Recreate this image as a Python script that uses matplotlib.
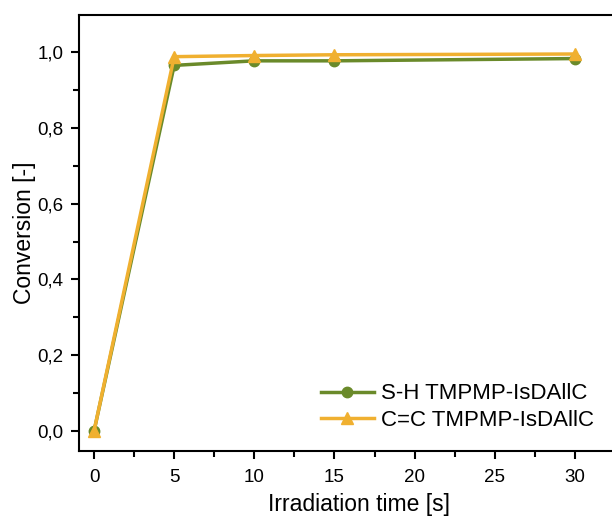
import matplotlib.pyplot as plt
from matplotlib.ticker import MultipleLocator, FuncFormatter

plt.rcParams['font.family'] = ['Liberation Sans', 'DejaVu Sans']

time_s = [0, 5, 10, 15, 30]
conv_sh = [0.0, 0.965, 0.977, 0.977, 0.983]
conv_cc = [0.0, 0.988, 0.991, 0.993, 0.995]

green = '#6a8a2a'
orange = '#f0b030'

fig = plt.figure(figsize=(6.12, 5.19), dpi=100)
ax = fig.add_axes([79 / 612, (519 - 451) / 519, 560 / 612, 436 / 519])

ax.plot(time_s, conv_sh, color=green, lw=2.5, marker='o', ms=7.5,
        label='S-H TMPMP-IsDAllC')
ax.plot(time_s, conv_cc, color=orange, lw=2.5, marker='^', ms=8.5,
        label='C=C TMPMP-IsDAllC')

ax.set_xlim(-0.94, 34)
ax.set_ylim(-0.053, 1.098)
ax.xaxis.set_major_locator(MultipleLocator(5))
ax.xaxis.set_minor_locator(MultipleLocator(2.5))
ax.yaxis.set_major_locator(MultipleLocator(0.2))
ax.yaxis.set_minor_locator(MultipleLocator(0.1))
ax.yaxis.set_major_formatter(FuncFormatter(lambda v, p: f'{v:.1f}'.replace('.', ',')))

for s in ax.spines.values():
    s.set_linewidth(1.5)
ax.spines['right'].set_visible(False)
ax.tick_params(which='major', direction='out', length=6, width=1.5, labelsize=13.5, pad=5)
ax.tick_params(axis='x', which='major', pad=7)
ax.tick_params(which='minor', direction='out', length=4, width=1.5)

ax.set_xlabel('Irradiation time [s]', fontsize=16.5, labelpad=5)
ax.set_ylabel('Conversion [-]', fontsize=16.5, labelpad=1)

ax.legend(loc='lower right', bbox_to_anchor=(0.955, 0.0), frameon=False, fontsize=16,
          handlelength=2.4, handletextpad=0.3, labelspacing=0.25)

fig.savefig('out.png', dpi=100)
